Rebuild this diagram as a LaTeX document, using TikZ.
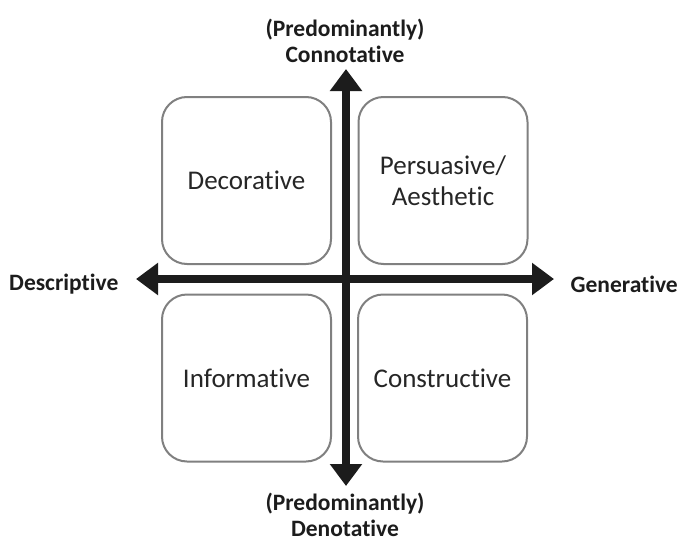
\documentclass[tikz,border=0pt]{standalone}
\usepackage{fontspec}
\setmainfont{Carlito}[Ligatures=NoCommon]
\usetikzlibrary{arrows.meta}
\definecolor{inkdark}{HTML}{1C1C1C}
\definecolor{boxline}{HTML}{808080}
\definecolor{boxtext}{HTML}{262626}
\begin{document}
\begin{tikzpicture}[x=1pt,y=-1pt,
  quadrant/.style={draw=boxline, line width=2pt, rounded corners=25pt,
    minimum width=169pt, minimum height=167pt, inner sep=0pt,
    align=center, text=boxtext, font=\fontsize{27}{31}\selectfont},
  axislabel/.style={align=center, text=inkdark, inner sep=0pt,
    font=\fontsize{23.5}{26}\selectfont\bfseries},
  axis/.style={draw=inkdark, line width=8pt,
    {Triangle[width=31pt,length=22pt]}-{Triangle[width=31pt,length=22pt]}}]
\useasboundingbox (0,0) rectangle (682,543);
\fill[white] (0,0) rectangle (682,543);

% four quadrants
\node[quadrant] (decorative)   at (246.5,180.5) {Decorative};
\node[quadrant] (persuasive)   at (443,180.5)   {Persuasive/\\Aesthetic};
\node[quadrant] (informative)  at (246.5,378)   {Informative};
\node[quadrant] (constructive) at (442.5,378)   {Constructive};

% axis ends
\coordinate (top)    at (346,69);
\coordinate (bottom) at (346,486);
\coordinate (left)   at (136,279);
\coordinate (right)  at (554,279);

% axes
\draw[axis] (bottom) -- (top);
\draw[axis] (left) -- (right);

% axis labels
\node[axislabel] (connotative) at (345,41)  {(Predominantly)\\Connotative};
\node[axislabel] (denotative)  at (345,515) {(Predominantly)\\Denotative};
\node[axislabel, anchor=base west] (descriptive) at (9,290) {Descriptive};
\node[axislabel, anchor=base east] (generative)  at (678,292) {Generative};
\end{tikzpicture}
\end{document}
